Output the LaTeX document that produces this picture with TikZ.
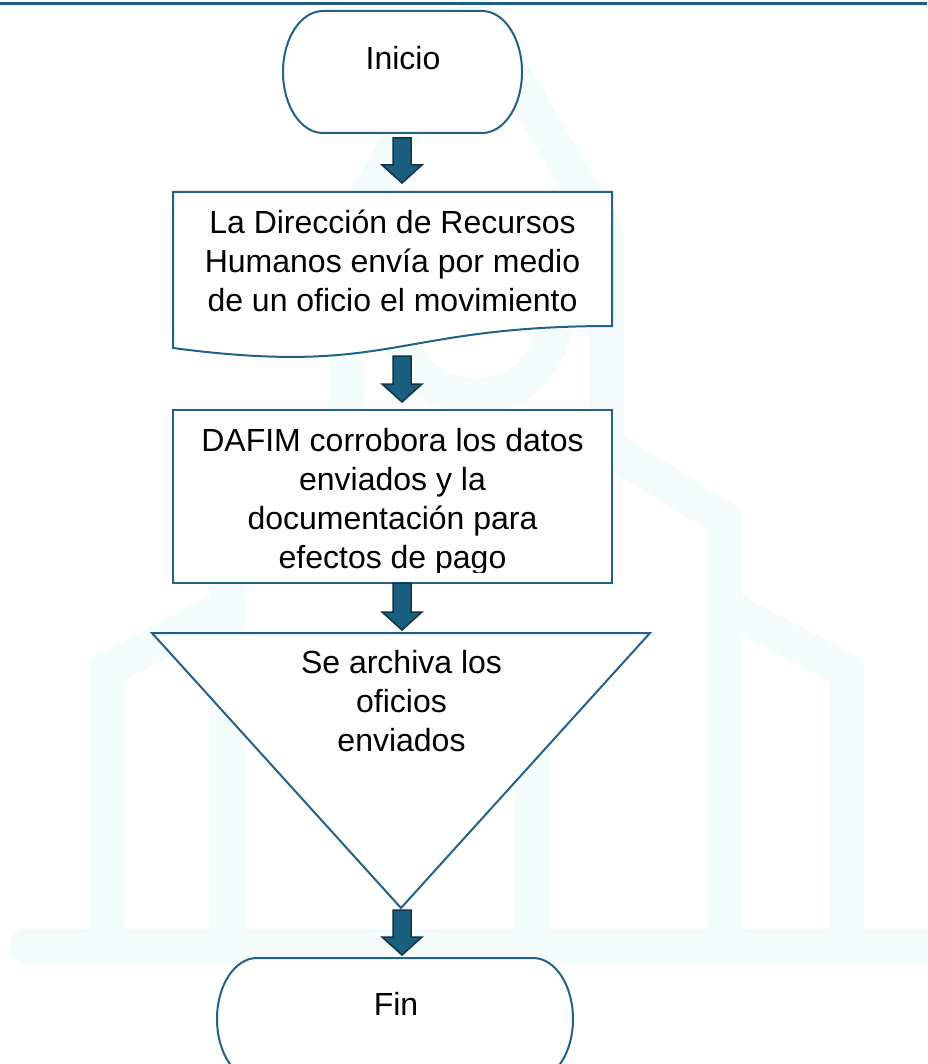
\documentclass[tikz,border=0pt]{standalone}
\usepackage{fontspec}
\setmainfont{Liberation Sans}
\usetikzlibrary{calc}
\definecolor{flowline}{HTML}{21618A}
\definecolor{arrowfill}{HTML}{1A5F80}
\definecolor{arrowedge}{HTML}{0F3446}
\definecolor{topbar}{HTML}{1E5E80}
\definecolor{wmark}{HTML}{F3FBFB}
\tikzset{
  frame/.style={rectangle, inner sep=0pt, outer sep=0pt},
  shp/.style={draw=flowline, line width=2pt, fill=white},
  lbl/.style={font=\fontsize{32}{38.7}\selectfont, align=center, inner sep=0pt, anchor=base},
  blk/.style={fill=arrowfill, draw=arrowedge, line width=1.5pt, line join=miter},
  wm/.style={draw=wmark, line width=35pt}
}
% rounded start/end shape around a frame node
\newcommand{\termshape}[1]{%
  \draw[shp] ($(#1.north west)+(40,0)$) -- ($(#1.north east)+(-40,0)$)
    .. controls ($(#1.north east)+(-18,0)$) and ($(#1.east)+(0,-34)$) .. (#1.east)
    .. controls ($(#1.east)+(0,34)$) and ($(#1.south east)+(-18,0)$) .. ($(#1.south east)+(-40,0)$)
    -- ($(#1.south west)+(40,0)$)
    .. controls ($(#1.south west)+(18,0)$) and ($(#1.west)+(0,34)$) .. (#1.west)
    .. controls ($(#1.west)+(0,-34)$) and ($(#1.north west)+(18,0)$) .. cycle;}
% thick block arrow from #1 down to tip #2
\newcommand{\blockarrow}[2]{%
  \draw[blk] ($(#1)+(-9,0)$) -- ($(#2)+(-9,-18)$) -- ($(#2)+(-20,-18)$) -- (#2)
    -- ($(#2)+(20,-18)$) -- ($(#2)+(9,-18)$) -- ($(#1)+(9,0)$) -- cycle;}

\begin{document}
\begin{tikzpicture}[x=1pt, y=-1pt]
    \useasboundingbox (0,0) rectangle (927,1064);

    % === Watermark ===
    \draw[wm, line cap=round] (27,946) -- (960,946);
    \draw[wm] (227,946) -- (227,520) -- (346,446) -- (346,232) -- (476,10)
        -- (606,232) -- (606,446) -- (725,520) -- (725,946);
    \draw[wm] (106,946) -- (106,670) -- (227,607);
    \draw[wm] (846,946) -- (846,670) -- (725,607);
    \draw[wm] (532,748) -- (532,946);
    \draw[wm] (476,318) circle (78);

    % top rule
    \draw[topbar, line width=3pt] (0,4) -- (927,4);

    % === Shapes ===
    \node[frame, minimum width=239, minimum height=122] (inicio) at (402.5,72) {};
    \termshape{inicio}

    \node[frame, minimum width=439, minimum height=167] (doc) at (392.5,275.5) {};
    \draw[shp] (doc.north west) -- (doc.north east) -- ($(doc.north east)+(0,134)$)
        .. controls ($(doc.north)+(0,134)$) and ($(doc.north)+(0,185)$) .. ($(doc.north west)+(0,156)$) -- cycle;

    \node[frame, shp, minimum width=439, minimum height=173] (proc) at (392.5,496.5) {};

    \node[frame, minimum width=498, minimum height=275] (archivo) at (401,770.5) {};
    \draw[shp] (archivo.north west) -- (archivo.north east) -- (archivo.south) -- cycle;

    \node[frame, minimum width=356, minimum height=122] (fin) at (395,1019) {};
    \termshape{fin}

    % === Texts (base = last line) ===
    \node[lbl] (inicioTxt) at (403,70) {Inicio};
    \node[lbl] (docTxt) at (392.5,311) {La Dirección de Recursos\\Humanos envía por medio\\de un oficio el movimiento};
    \begin{scope}
        \clip (proc.north west) rectangle ($(proc.south east)+(0,-11)$);
        \node[lbl] (procTxt) at (392.5,568) {DAFIM corrobora los datos\\enviados y la\\documentación para\\efectos de pago};
    \end{scope}
    \node[lbl] (archivoTxt) at (401.5,751) {Se archiva los\\oficios\\enviados};
    \node[lbl] (finTxt) at (396,1015) {Fin};

    % === Arrows ===
    \coordinate (axis) at (402,0);
    \foreach \from/\to/\a/\b in {inicio.south/doc.north/5/-9, doc.south/proc.north/-3/-8,
        proc.south/archivo.north/0/-3, archivo.south/fin.north/2/-3} {
        \coordinate (s) at ($(axis |- \from)+(0,\a)$);
        \coordinate (e) at ($(axis |- \to)+(0,\b)$);
        \blockarrow{s}{e}
    }

\end{tikzpicture}
\end{document}
